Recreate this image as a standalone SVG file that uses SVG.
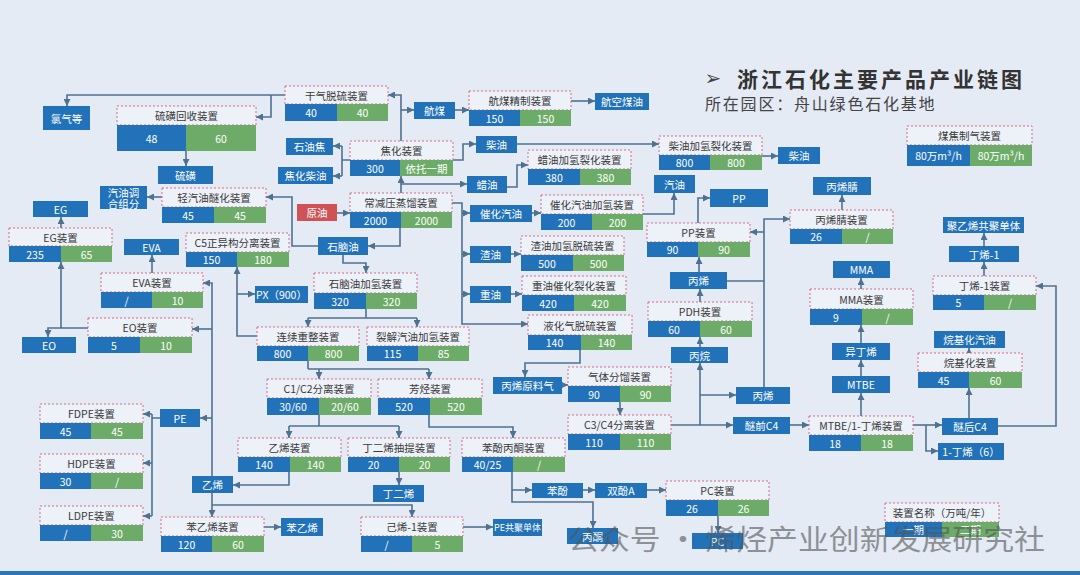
<svg xmlns="http://www.w3.org/2000/svg" width="1080" height="575" viewBox="0 0 1080 575">
<defs>
<marker id="ar" viewBox="0 0 10 10" refX="10" refY="5" markerWidth="7" markerHeight="7" markerUnits="userSpaceOnUse" orient="auto"><path d="M0,0 L10,5 L0,10 z" fill="#4e7191"/></marker>
<style>
.h{fill:#edf1f8;stroke:#d46a8a;stroke-width:1;stroke-dasharray:2,2}
.b{fill:#2272b9}
.g{fill:#6dac68}
.r{fill:#cf5257}
text{font-family:"Noto Sans CJK SC","Noto Sans",sans-serif;font-size:10.5px;text-anchor:middle;dominant-baseline:central}
.ht{fill:#3a3a3a}
.vt{fill:#ffffff}
.c path{fill:none;stroke:#4e7191;stroke-width:1.6}
.c .a{marker-end:url(#ar)}
</style>
</defs>
<rect x="0" y="0" width="1080" height="575" fill="#e4ebf5"/>
<rect x="0" y="571" width="1080" height="4" fill="#2a74b8"/>

<g id="title">
<text x="713" y="78" style="font-family:'DejaVu Sans',sans-serif;font-size:20px;fill:#444">➢</text>
<text x="737" y="78" style="font-size:21px;font-weight:bold;fill:#333;text-anchor:start;letter-spacing:3px">浙江石化主要产品产业链图</text>
<text x="705" y="103" style="font-size:16px;fill:#444;text-anchor:start;letter-spacing:1.8px">所在园区：舟山绿色石化基地</text>
</g>

<g class="c" id="connectors">
<path class="a" d="M285,95 H67 V106"/>
<path class="a" d="M271,95 V117 H256"/>
<path class="a" d="M186,151 V166"/>
<path class="a" d="M318,246 H292 V197 H266"/>
<path class="a" d="M162,197 H147"/>
<path class="a" d="M61,228 V217"/>
<path class="a" d="M88,328 H48 V337"/>
<path class="a" d="M61,328 V262"/>
<path class="a" d="M152,273 V255"/>
<path class="a" d="M212,476 V283 H203"/>
<path class="a" d="M212,329 H192"/>
<path class="a" d="M212,418 H200"/>
<path class="a" d="M212,493 V517"/>
<path class="a" d="M212,505 H412 V517"/>
<path d="M160,418 H152 M152,414 V516"/>
<path class="a" d="M152,414 H143"/>
<path class="a" d="M152,463 H143"/>
<path class="a" d="M152,516 H143"/>
<path class="a" d="M264,527 H281"/>
<path class="a" d="M463,527 H493"/>
<path class="a" d="M289,472 V485 H233"/>
<path d="M319,415 V426 M289,426 H399"/>
<path class="a" d="M289,426 V438"/>
<path class="a" d="M399,426 V438"/>
<path class="a" d="M399,472 V485"/>
<path class="a" d="M429,415 V427 H513 V438"/>
<path class="a" d="M512,472 V490 H532"/>
<path class="a" d="M512,490 V502 H593 V528"/>
<path class="a" d="M583,490 H595"/>
<path class="a" d="M647,490 H666"/>
<path class="a" d="M718,516 V533"/>
<path d="M308,361 V369 M308,369 H429"/>
<path class="a" d="M319,369 V379"/>
<path class="a" d="M429,369 V379"/>
<path class="a" d="M257,336 H237 V267"/>
<path class="a" d="M237,294 H255"/>
<path d="M366,309 V318 M308,318 H417"/>
<path class="a" d="M308,318 V327"/>
<path class="a" d="M417,318 V327"/>
<path class="a" d="M343,255 V263 H366 V273"/>
<path class="a" d="M400,228 V246 H368"/>
<path class="a" d="M337,213 H350"/>
<path class="a" d="M401,193 V176"/>
<path class="a" d="M401,184 H467"/>
<path class="a" d="M452,203 H462 V324 H528"/>
<path class="a" d="M462,213 H470"/>
<path class="a" d="M462,254 H470"/>
<path class="a" d="M462,294 H470"/>
<path d="M350,160 H342 M342,146 V176"/>
<path class="a" d="M342,146 H333"/>
<path class="a" d="M342,176 H333"/>
<path class="a" d="M453,160 H463 V144 H476"/>
<path class="a" d="M517,144 H659"/>
<path class="a" d="M401,141 V95 H388"/>
<path class="a" d="M401,110 H414"/>
<path class="a" d="M455,110 H469"/>
<path class="a" d="M571,101 H595"/>
<path class="a" d="M507,187 H517 V165 H528"/>
<path class="a" d="M762,156 H778"/>
<path class="a" d="M532,213 H541"/>
<path class="a" d="M643,214 H674 V193"/>
<path class="a" d="M511,254 H521"/>
<path class="a" d="M511,294 H522"/>
<path class="a" d="M580,350 V363 H525 V377"/>
<path class="a" d="M562,385 H568"/>
<path class="a" d="M620,402 V415"/>
<path class="a" d="M671,425 H733"/>
<path class="a" d="M700,425 V363"/>
<path class="a" d="M700,395 H736"/>
<path class="a" d="M700,347 V337"/>
<path class="a" d="M700,302 V289"/>
<path class="a" d="M699,272 V257"/>
<path class="a" d="M698,223 V198 H710"/>
<path class="a" d="M764,387 V219 H790"/>
<path class="a" d="M764,232 H750"/>
<path d="M727,281 H764"/>
<path class="a" d="M842,210 V195"/>
<path class="a" d="M861,289 V278"/>
<path class="a" d="M861,343 V325"/>
<path class="a" d="M861,376 V360"/>
<path class="a" d="M861,416 V393"/>
<path class="a" d="M790,425 H809"/>
<path class="a" d="M913,425 H942"/>
<path class="a" d="M926,425 V451 H938"/>
<path class="a" d="M969,418 V388"/>
<path class="a" d="M969,353 V348"/>
<path class="a" d="M998,426 H1056 V286 H1036"/>
<path class="a" d="M984,276 V262"/>
<path class="a" d="M984,246 V233"/>
</g>

<!-- units -->
<g id="u_gqts"><rect class="h" x="285" y="86" width="103" height="18"/><rect class="b" x="285" y="104" width="52" height="17"/><rect class="g" x="337" y="104" width="51" height="17"/><text class="ht" x="336.5" y="95">干气脱硫装置</text><text class="vt" x="311" y="112.5">40</text><text class="vt" x="362.5" y="112.5">40</text></g>
<g id="u_lhhs"><rect class="h" x="117" y="106" width="139" height="19"/><rect class="b" x="117" y="125" width="69" height="26"/><rect class="g" x="186" y="125" width="70" height="26"/><text class="ht" x="186.5" y="115.5">硫磺回收装置</text><text class="vt" x="151.5" y="138">48</text><text class="vt" x="221" y="138">60</text></g>
<g id="u_qqyms"><rect class="h" x="162" y="188" width="104" height="19"/><rect class="b" x="162" y="207" width="52" height="16"/><rect class="g" x="214" y="207" width="52" height="16"/><text class="ht" x="214" y="197.5">轻汽油醚化装置</text><text class="vt" x="188" y="215">45</text><text class="vt" x="240" y="215">45</text></g>
<g id="u_eg"><rect class="h" x="9" y="228" width="103" height="18"/><rect class="b" x="9" y="246" width="52" height="16"/><rect class="g" x="61" y="246" width="51" height="16"/><text class="ht" x="60.5" y="237">EG装置</text><text class="vt" x="35" y="254">235</text><text class="vt" x="86.5" y="254">65</text></g>
<g id="u_c5"><rect class="h" x="186" y="233" width="103" height="19"/><rect class="b" x="186" y="252" width="51" height="15"/><rect class="g" x="237" y="252" width="52" height="15"/><text class="ht" x="237.5" y="242.5">C5正异构分离装置</text><text class="vt" x="211.5" y="259.5">150</text><text class="vt" x="263" y="259.5">180</text></g>
<g id="u_eva"><rect class="h" x="101" y="273" width="102" height="19"/><rect class="b" x="101" y="292" width="51" height="16"/><rect class="g" x="152" y="292" width="51" height="16"/><text class="ht" x="152" y="282.5">EVA装置</text><text class="vt" x="126.5" y="300">/</text><text class="vt" x="177.5" y="300">10</text></g>
<g id="u_eo"><rect class="h" x="88" y="318" width="104" height="19"/><rect class="b" x="88" y="337" width="52" height="16"/><rect class="g" x="140" y="337" width="52" height="16"/><text class="ht" x="140" y="327.5">EO装置</text><text class="vt" x="114" y="345">5</text><text class="vt" x="166" y="345">10</text></g>
<g id="u_jh"><rect class="h" x="350" y="141" width="103" height="19"/><rect class="b" x="350" y="160" width="50" height="16"/><rect class="g" x="400" y="160" width="53" height="16"/><text class="ht" x="401.5" y="150.5">焦化装置</text><text class="vt" x="375" y="168">300</text><text class="vt" x="426.5" y="168">依托一期</text></g>
<g id="u_cjy"><rect class="h" x="350" y="193" width="102" height="19"/><rect class="b" x="350" y="212" width="51" height="16"/><rect class="g" x="401" y="212" width="51" height="16"/><text class="ht" x="401" y="202.5">常减压蒸馏装置</text><text class="vt" x="375.5" y="220">2000</text><text class="vt" x="426.5" y="220">2000</text></g>
<g id="u_hmjz"><rect class="h" x="469" y="91" width="102" height="19"/><rect class="b" x="469" y="110" width="51" height="16"/><rect class="g" x="520" y="110" width="51" height="16"/><text class="ht" x="520" y="100.5">航煤精制装置</text><text class="vt" x="494.5" y="118">150</text><text class="vt" x="545.5" y="118">150</text></g>
<g id="u_lyjq"><rect class="h" x="528" y="150" width="103" height="19"/><rect class="b" x="528" y="169" width="52" height="16"/><rect class="g" x="580" y="169" width="51" height="16"/><text class="ht" x="579.5" y="159.5">蜡油加氢裂化装置</text><text class="vt" x="554" y="177">380</text><text class="vt" x="605.5" y="177">380</text></g>
<g id="u_cyjq"><rect class="h" x="659" y="136" width="103" height="19"/><rect class="b" x="659" y="155" width="51" height="15"/><rect class="g" x="710" y="155" width="52" height="15"/><text class="ht" x="710.5" y="145.5">柴油加氢裂化装置</text><text class="vt" x="684.5" y="162.5">800</text><text class="vt" x="736" y="162.5">800</text></g>
<g id="u_chqy"><rect class="h" x="541" y="195" width="102" height="19"/><rect class="b" x="541" y="214" width="51" height="16"/><rect class="g" x="592" y="214" width="51" height="16"/><text class="ht" x="592" y="204.5">催化汽油加氢装置</text><text class="vt" x="566.5" y="222">200</text><text class="vt" x="617.5" y="222">200</text></g>
<g id="u_zyjq"><rect class="h" x="521" y="236" width="103" height="19"/><rect class="b" x="521" y="255" width="52" height="16"/><rect class="g" x="573" y="255" width="51" height="16"/><text class="ht" x="572.5" y="245.5">渣油加氢脱硫装置</text><text class="vt" x="547" y="263">500</text><text class="vt" x="598.5" y="263">500</text></g>
<g id="u_zyyc"><rect class="h" x="522" y="276" width="104" height="19"/><rect class="b" x="522" y="295" width="52" height="16"/><rect class="g" x="574" y="295" width="52" height="16"/><text class="ht" x="574" y="285.5">重油催化裂化装置</text><text class="vt" x="548" y="303">420</text><text class="vt" x="600" y="303">420</text></g>
<g id="u_yhq"><rect class="h" x="528" y="315" width="104" height="20"/><rect class="b" x="528" y="335" width="53" height="15"/><rect class="g" x="581" y="335" width="51" height="15"/><text class="ht" x="580" y="325">液化气脱硫装置</text><text class="vt" x="554.5" y="342.5">140</text><text class="vt" x="606.5" y="342.5">140</text></g>
<g id="u_snjq"><rect class="h" x="314" y="273" width="103" height="20"/><rect class="b" x="314" y="293" width="52" height="16"/><rect class="g" x="366" y="293" width="51" height="16"/><text class="ht" x="365.5" y="283">石脑油加氢装置</text><text class="vt" x="340" y="301">320</text><text class="vt" x="391.5" y="301">320</text></g>
<g id="u_lxcz"><rect class="h" x="257" y="327" width="102" height="19"/><rect class="b" x="257" y="346" width="51" height="15"/><rect class="g" x="308" y="346" width="51" height="15"/><text class="ht" x="308" y="336.5">连续重整装置</text><text class="vt" x="282.5" y="353.5">800</text><text class="vt" x="333.5" y="353.5">800</text></g>
<g id="u_ljqy"><rect class="h" x="367" y="327" width="102" height="19"/><rect class="b" x="367" y="346" width="51" height="15"/><rect class="g" x="418" y="346" width="51" height="15"/><text class="ht" x="418" y="336.5">裂解汽油加氢装置</text><text class="vt" x="392.5" y="353.5">115</text><text class="vt" x="443.5" y="353.5">85</text></g>
<g id="u_c1c2"><rect class="h" x="267" y="379" width="104" height="19"/><rect class="b" x="267" y="398" width="52" height="17"/><rect class="g" x="319" y="398" width="52" height="17"/><text class="ht" x="319" y="388.5">C1/C2分离装置</text><text class="vt" x="293" y="406.5">30/60</text><text class="vt" x="345" y="406.5">20/60</text></g>
<g id="u_fx"><rect class="h" x="378" y="379" width="104" height="19"/><rect class="b" x="378" y="398" width="52" height="17"/><rect class="g" x="430" y="398" width="52" height="17"/><text class="ht" x="430" y="388.5">芳烃装置</text><text class="vt" x="404" y="406.5">520</text><text class="vt" x="456" y="406.5">520</text></g>
<g id="u_qtfl"><rect class="h" x="568" y="367" width="103" height="19"/><rect class="b" x="568" y="386" width="52" height="16"/><rect class="g" x="620" y="386" width="51" height="16"/><text class="ht" x="619.5" y="376.5">气体分馏装置</text><text class="vt" x="594" y="394">90</text><text class="vt" x="645.5" y="394">90</text></g>
<g id="u_c3c4"><rect class="h" x="568" y="415" width="103" height="19"/><rect class="b" x="568" y="434" width="52" height="16"/><rect class="g" x="620" y="434" width="51" height="16"/><text class="ht" x="619.5" y="424.5">C3/C4分离装置</text><text class="vt" x="594" y="442">110</text><text class="vt" x="645.5" y="442">110</text></g>
<g id="u_yx"><rect class="h" x="238" y="438" width="103" height="19"/><rect class="b" x="238" y="457" width="52" height="15"/><rect class="g" x="290" y="457" width="51" height="15"/><text class="ht" x="289.5" y="447.5">乙烯装置</text><text class="vt" x="264" y="464.5">140</text><text class="vt" x="315.5" y="464.5">140</text></g>
<g id="u_dex"><rect class="h" x="348" y="438" width="102" height="19"/><rect class="b" x="348" y="457" width="51" height="15"/><rect class="g" x="399" y="457" width="51" height="15"/><text class="ht" x="399" y="447.5">丁二烯抽提装置</text><text class="vt" x="373.5" y="464.5">20</text><text class="vt" x="424.5" y="464.5">20</text></g>
<g id="u_bfbt"><rect class="h" x="462" y="438" width="103" height="19"/><rect class="b" x="462" y="457" width="51" height="15"/><rect class="g" x="513" y="457" width="52" height="15"/><text class="ht" x="513.5" y="447.5">苯酚丙酮装置</text><text class="vt" x="487.5" y="464.5">40/25</text><text class="vt" x="539" y="464.5">/</text></g>
<g id="u_pc"><rect class="h" x="666" y="481" width="103" height="19"/><rect class="b" x="666" y="500" width="52" height="16"/><rect class="g" x="718" y="500" width="51" height="16"/><text class="ht" x="717.5" y="490.5">PC装置</text><text class="vt" x="692" y="508">26</text><text class="vt" x="743.5" y="508">26</text></g>
<g id="u_fdpe"><rect class="h" x="40" y="404" width="103" height="19"/><rect class="b" x="40" y="423" width="51" height="16"/><rect class="g" x="91" y="423" width="52" height="16"/><text class="ht" x="91.5" y="413.5">FDPE装置</text><text class="vt" x="65.5" y="431">45</text><text class="vt" x="117" y="431">45</text></g>
<g id="u_hdpe"><rect class="h" x="40" y="454" width="103" height="19"/><rect class="b" x="40" y="473" width="51" height="16"/><rect class="g" x="91" y="473" width="52" height="16"/><text class="ht" x="91.5" y="463.5">HDPE装置</text><text class="vt" x="65.5" y="481">30</text><text class="vt" x="117" y="481">/</text></g>
<g id="u_ldpe"><rect class="h" x="40" y="506" width="103" height="19"/><rect class="b" x="40" y="525" width="51" height="16"/><rect class="g" x="91" y="525" width="52" height="16"/><text class="ht" x="91.5" y="515.5">LDPE装置</text><text class="vt" x="65.5" y="533">/</text><text class="vt" x="117" y="533">30</text></g>
<g id="u_byx"><rect class="h" x="161" y="517" width="103" height="19"/><rect class="b" x="161" y="536" width="51" height="16"/><rect class="g" x="212" y="536" width="52" height="16"/><text class="ht" x="212.5" y="526.5">苯乙烯装置</text><text class="vt" x="186.5" y="544">120</text><text class="vt" x="238" y="544">60</text></g>
<g id="u_jx1"><rect class="h" x="361" y="517" width="102" height="19"/><rect class="b" x="361" y="536" width="51" height="16"/><rect class="g" x="412" y="536" width="51" height="16"/><text class="ht" x="412" y="526.5">己烯-1装置</text><text class="vt" x="386.5" y="544">/</text><text class="vt" x="437.5" y="544">5</text></g>
<g id="u_pp"><rect class="h" x="647" y="223" width="103" height="19"/><rect class="b" x="647" y="242" width="51" height="15"/><rect class="g" x="698" y="242" width="52" height="15"/><text class="ht" x="698.5" y="232.5">PP装置</text><text class="vt" x="672.5" y="249.5">90</text><text class="vt" x="724" y="249.5">90</text></g>
<g id="u_pdh"><rect class="h" x="648" y="302" width="104" height="19"/><rect class="b" x="648" y="321" width="52" height="16"/><rect class="g" x="700" y="321" width="52" height="16"/><text class="ht" x="700" y="311.5">PDH装置</text><text class="vt" x="674" y="329">60</text><text class="vt" x="726" y="329">60</text></g>
<g id="u_bxq"><rect class="h" x="790" y="210" width="103" height="19"/><rect class="b" x="790" y="229" width="52" height="15"/><rect class="g" x="842" y="229" width="51" height="15"/><text class="ht" x="841.5" y="219.5">丙烯腈装置</text><text class="vt" x="816" y="236.5">26</text><text class="vt" x="867.5" y="236.5">/</text></g>
<g id="u_mjzq"><rect class="h" x="907" y="126" width="125" height="19"/><rect class="b" x="907" y="145" width="63" height="21"/><rect class="g" x="970" y="145" width="62" height="21"/><text class="ht" x="969.5" y="135.5">煤焦制气装置</text><text class="vt" x="938.5" y="155.5">80万m³/h</text><text class="vt" x="1001" y="155.5">80万m³/h</text></g>
<g id="u_mma"><rect class="h" x="810" y="289" width="103" height="20"/><rect class="b" x="810" y="309" width="52" height="16"/><rect class="g" x="862" y="309" width="51" height="16"/><text class="ht" x="861.5" y="299">MMA装置</text><text class="vt" x="836" y="317">9</text><text class="vt" x="887.5" y="317">/</text></g>
<g id="u_mtbe"><rect class="h" x="809" y="416" width="104" height="19"/><rect class="b" x="809" y="435" width="52" height="16"/><rect class="g" x="861" y="435" width="52" height="16"/><text class="ht" x="861" y="425.5">MTBE/1-丁烯装置</text><text class="vt" x="835" y="443">18</text><text class="vt" x="887" y="443">18</text></g>
<g id="u_alk"><rect class="h" x="918" y="353" width="104" height="19"/><rect class="b" x="918" y="372" width="51" height="16"/><rect class="g" x="969" y="372" width="53" height="16"/><text class="ht" x="970" y="362.5">烷基化装置</text><text class="vt" x="943.5" y="380">45</text><text class="vt" x="995.5" y="380">60</text></g>
<g id="u_dx1"><rect class="h" x="933" y="276" width="103" height="19"/><rect class="b" x="933" y="295" width="51" height="15"/><rect class="g" x="984" y="295" width="52" height="15"/><text class="ht" x="984.5" y="285.5">丁烯-1装置</text><text class="vt" x="958.5" y="302.5">5</text><text class="vt" x="1010" y="302.5">/</text></g>
<g id="legend"><rect class="h" x="885" y="503" width="114" height="19"/><rect class="b" x="885" y="522" width="57" height="15"/><rect class="g" x="942" y="522" width="57" height="15"/><text class="ht" x="942" y="512.5">装置名称（万吨/年）</text><text class="vt" x="913.5" y="529.5">一期</text><text class="vt" x="970.5" y="529.5">二期</text></g>

<!-- product boxes -->
<g id="p_lqd"><rect class="b" x="43" y="106" width="47" height="24"/><text class="vt" x="66.5" y="118">氯气等</text></g>
<g id="p_lh"><rect class="b" x="158" y="166" width="55" height="18"/><text class="vt" x="185.5" y="175">硫磺</text></g>
<g id="p_qythzf"><rect class="b" x="100" y="186" width="47" height="23"/><text class="vt" x="123.5" y="192">汽油调</text><text class="vt" x="123.5" y="203">合组分</text></g>
<g id="p_eg"><rect class="b" x="33" y="201" width="55" height="16"/><text class="vt" x="60.5" y="209">EG</text></g>
<g id="p_eva"><rect class="b" x="124" y="239" width="55" height="16"/><text class="vt" x="151.5" y="247">EVA</text></g>
<g id="p_eo"><rect class="b" x="22" y="337" width="54" height="16"/><text class="vt" x="49" y="345">EO</text></g>
<g id="p_syj"><rect class="b" x="286" y="138" width="47" height="17"/><text class="vt" x="309.5" y="146.5">石油焦</text></g>
<g id="p_jhcy"><rect class="b" x="278" y="167" width="55" height="17"/><text class="vt" x="305.5" y="175.5">焦化柴油</text></g>
<g id="p_yy"><rect class="r" x="297" y="204" width="40" height="17"/><text class="vt" x="317" y="212.5">原油</text></g>
<g id="p_hm"><rect class="b" x="414" y="102" width="41" height="17"/><text class="vt" x="434.5" y="110.5">航煤</text></g>
<g id="p_hkmy"><rect class="b" x="595" y="93" width="54" height="17"/><text class="vt" x="622" y="101.5">航空煤油</text></g>
<g id="p_cy1"><rect class="b" x="476" y="136" width="41" height="17"/><text class="vt" x="496.5" y="144.5">柴油</text></g>
<g id="p_ly"><rect class="b" x="467" y="176" width="40" height="17"/><text class="vt" x="487" y="184.5">蜡油</text></g>
<g id="p_chqy"><rect class="b" x="470" y="205" width="62" height="17"/><text class="vt" x="501" y="213.5">催化汽油</text></g>
<g id="p_sny"><rect class="b" x="318" y="237" width="50" height="18"/><text class="vt" x="343" y="246">石脑油</text></g>
<g id="p_px"><rect class="b" x="255" y="286" width="53" height="17"/><text class="vt" x="281.5" y="294.5">PX（900）</text></g>
<g id="p_zy"><rect class="b" x="470" y="246" width="41" height="17"/><text class="vt" x="490.5" y="254.5">渣油</text></g>
<g id="p_zhy"><rect class="b" x="470" y="286" width="41" height="17"/><text class="vt" x="490.5" y="294.5">重油</text></g>
<g id="p_bxylq"><rect class="b" x="493" y="377" width="69" height="17"/><text class="vt" x="527.5" y="385.5">丙烯原料气</text></g>
<g id="p_qy"><rect class="b" x="654" y="175" width="41" height="18"/><text class="vt" x="674.5" y="184">汽油</text></g>
<g id="p_cy2"><rect class="b" x="778" y="147" width="42" height="17"/><text class="vt" x="799" y="155.5">柴油</text></g>
<g id="p_pp"><rect class="b" x="710" y="189" width="58" height="18"/><text class="vt" x="739" y="198">PP</text></g>
<g id="p_bxj"><rect class="b" x="813" y="177" width="58" height="18"/><text class="vt" x="842" y="186">丙烯腈</text></g>
<g id="p_bx1"><rect class="b" x="670" y="272" width="57" height="17"/><text class="vt" x="698.5" y="280.5">丙烯</text></g>
<g id="p_bw"><rect class="b" x="671" y="347" width="57" height="16"/><text class="vt" x="699.5" y="355">丙烷</text></g>
<g id="p_bx2"><rect class="b" x="736" y="387" width="54" height="17"/><text class="vt" x="763" y="395.5">丙烯</text></g>
<g id="p_mqc4"><rect class="b" x="733" y="417" width="57" height="17"/><text class="vt" x="761.5" y="425.5">醚前C4</text></g>
<g id="p_mma"><rect class="b" x="833" y="261" width="57" height="17"/><text class="vt" x="861.5" y="269.5">MMA</text></g>
<g id="p_ydx"><rect class="b" x="832" y="343" width="58" height="17"/><text class="vt" x="861" y="351.5">异丁烯</text></g>
<g id="p_mtbe"><rect class="b" x="832" y="376" width="58" height="17"/><text class="vt" x="861" y="384.5">MTBE</text></g>
<g id="p_mhc4"><rect class="b" x="942" y="418" width="56" height="17"/><text class="vt" x="970" y="426.5">醚后C4</text></g>
<g id="p_1dx"><rect class="b" x="938" y="443" width="66" height="17"/><text class="vt" x="971" y="451.5">1-丁烯（6）</text></g>
<g id="p_wjhqy"><rect class="b" x="934" y="331" width="71" height="17"/><text class="vt" x="969.5" y="339.5">烷基化汽油</text></g>
<g id="p_dx1"><rect class="b" x="949" y="246" width="70" height="16"/><text class="vt" x="984" y="254">丁烯-1</text></g>
<g id="p_pegjdt"><rect class="b" x="943" y="217" width="81" height="16"/><text class="vt" x="983.5" y="225">聚乙烯共聚单体</text></g>
<g id="p_pe"><rect class="b" x="160" y="409" width="40" height="18"/><text class="vt" x="180" y="418">PE</text></g>
<g id="p_yx"><rect class="b" x="192" y="476" width="41" height="17"/><text class="vt" x="212.5" y="484.5">乙烯</text></g>
<g id="p_byx"><rect class="b" x="281" y="518" width="42" height="18"/><text class="vt" x="302" y="527">苯乙烯</text></g>
<g id="p_dex"><rect class="b" x="373" y="485" width="51" height="17"/><text class="vt" x="398.5" y="493.5">丁二烯</text></g>
<g id="p_pegj"><rect class="b" x="493" y="519" width="49" height="17"/><text class="vt" x="517.5" y="527.5" style="font-size:9px">PE共聚单体</text></g>
<g id="p_bf"><rect class="b" x="532" y="483" width="51" height="15"/><text class="vt" x="557.5" y="490.5">苯酚</text></g>
<g id="p_sfa"><rect class="b" x="595" y="483" width="52" height="15"/><text class="vt" x="621" y="490.5">双酚A</text></g>
<g id="p_bt"><rect class="b" x="567" y="528" width="51" height="16"/><text class="vt" x="592.5" y="536">丙酮</text></g>
<g id="p_pc"><rect class="b" x="692" y="533" width="51" height="16"/><text class="vt" x="717.5" y="541">PC</text></g>

<g id="watermark" opacity="0.6">
<text x="568" y="538" textLength="477" lengthAdjust="spacingAndGlyphs" style="font-size:28px;fill:#555;text-anchor:start">公众号 · 烯烃产业创新发展研究社</text>
</g>
</svg>
